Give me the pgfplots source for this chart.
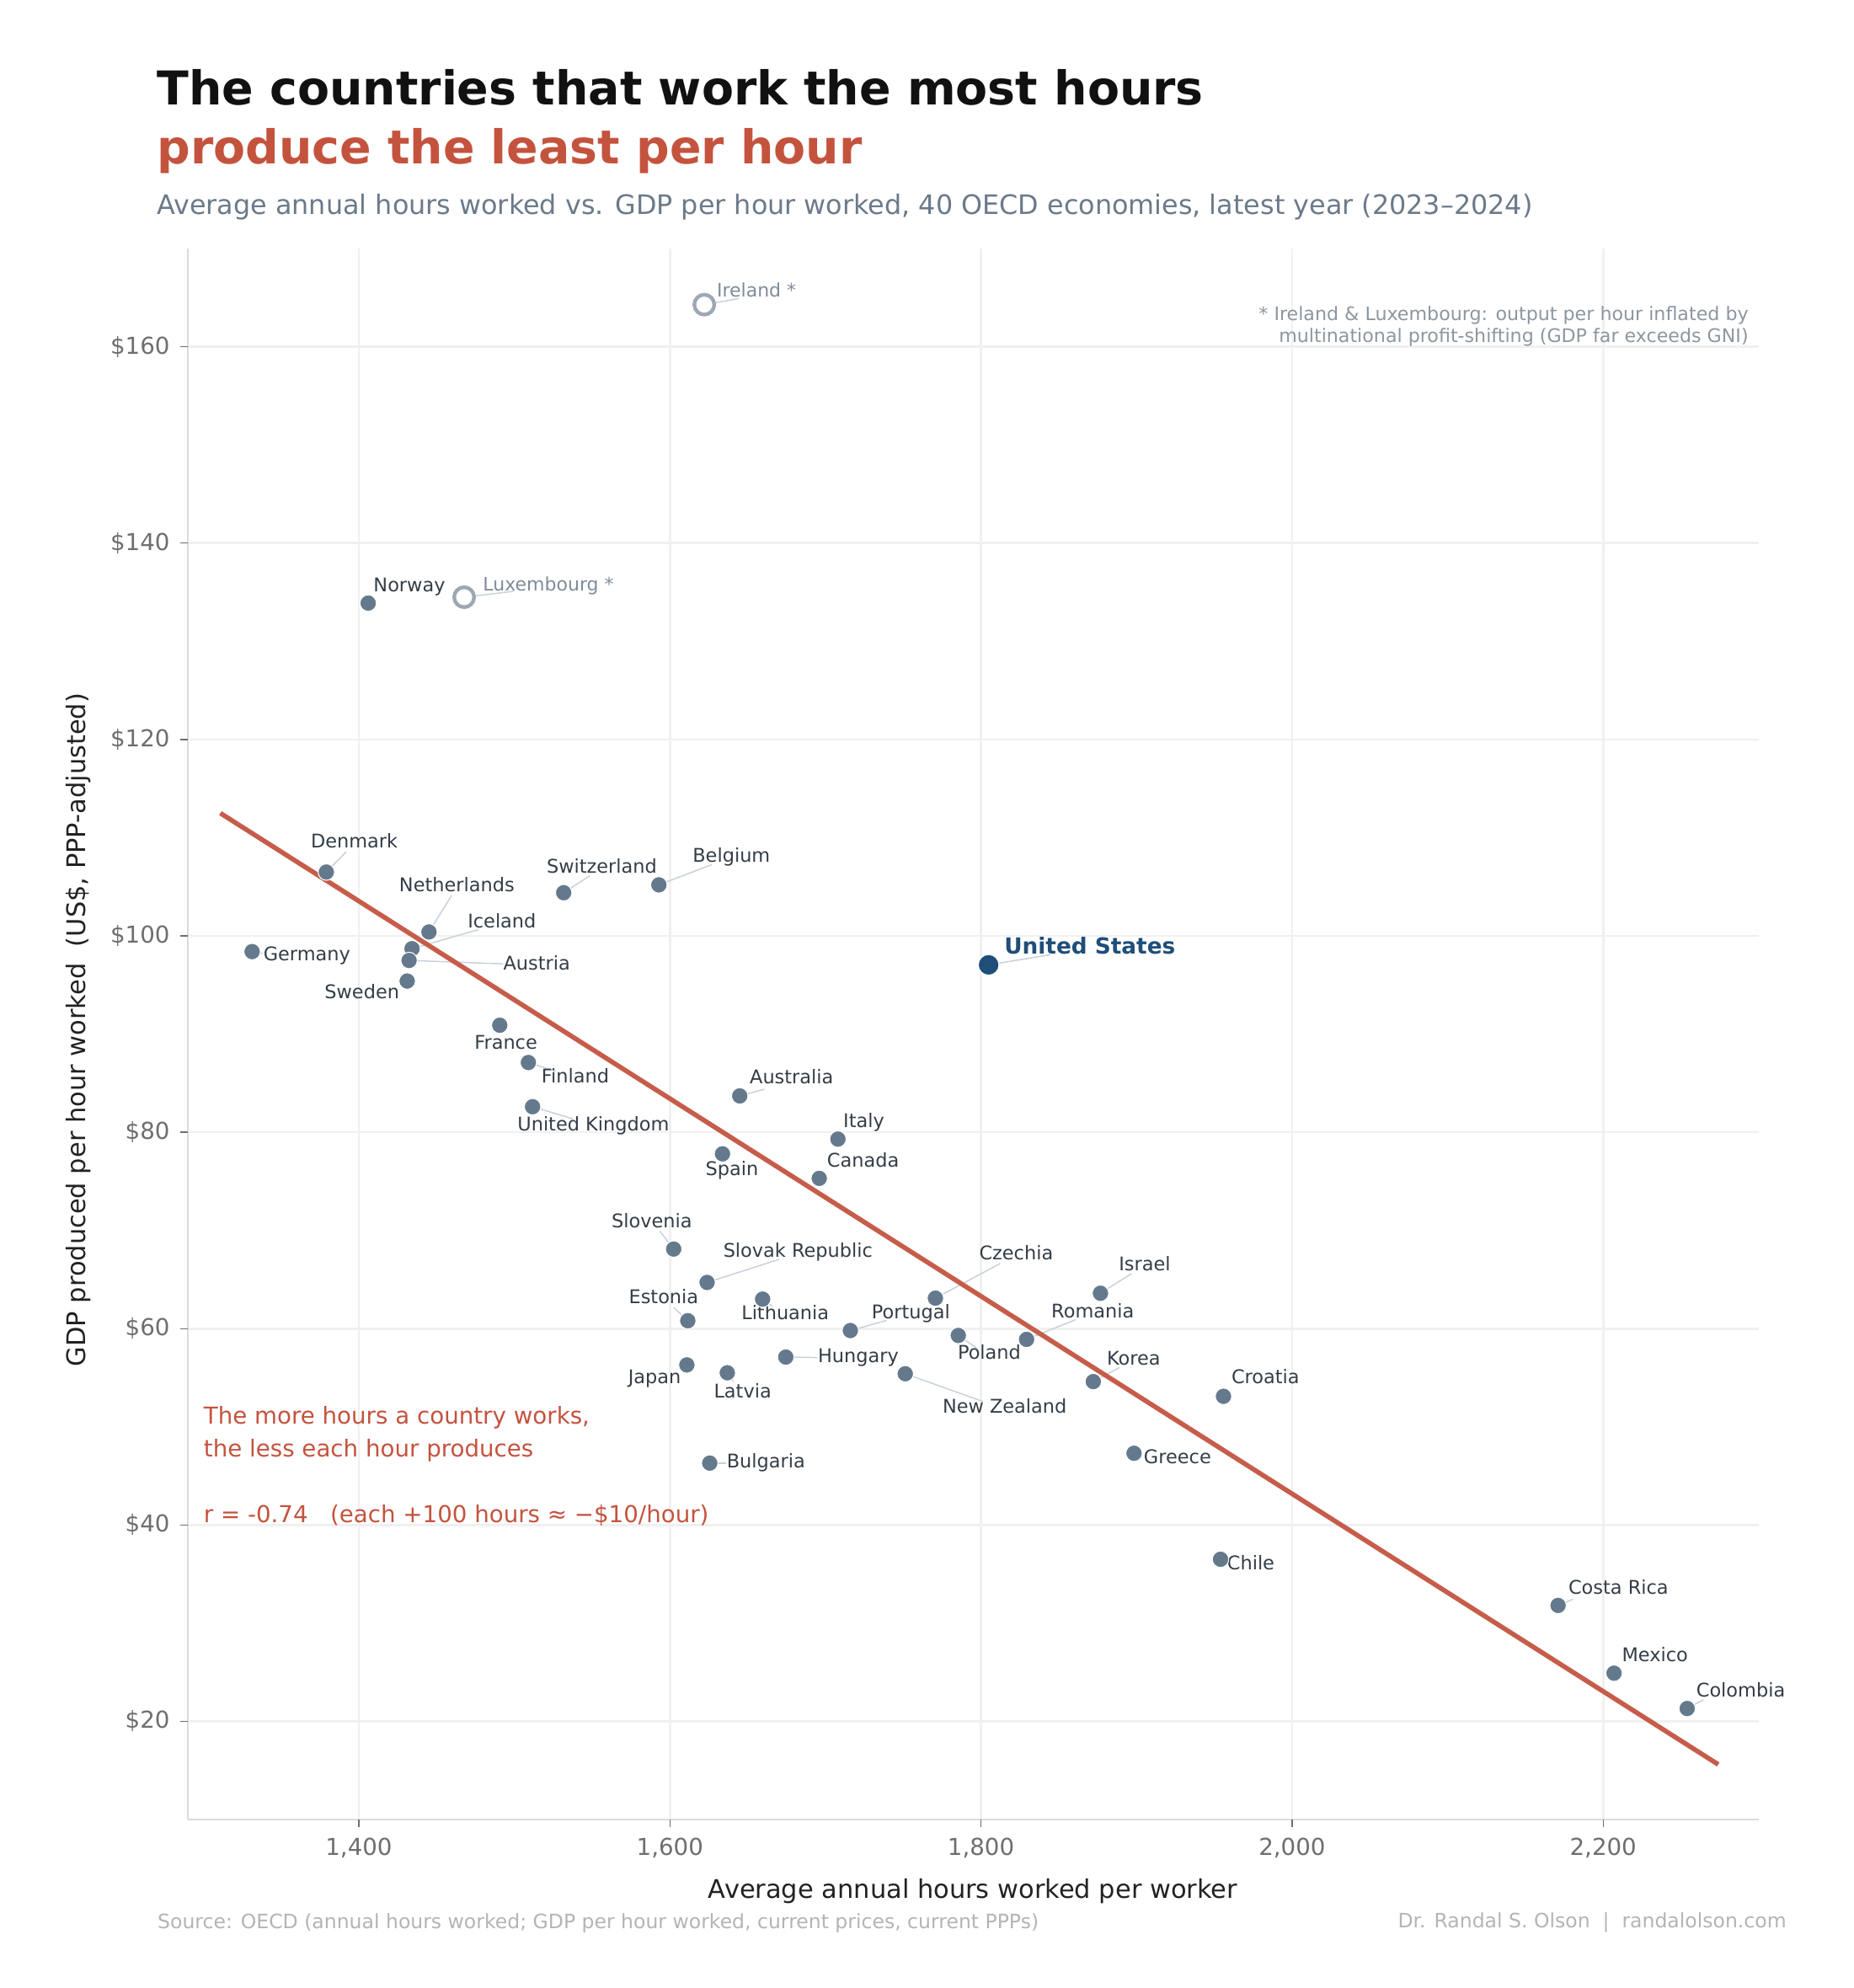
\documentclass[border=0pt]{standalone}
\usepackage{fontspec}
\setmainfont{DejaVu Sans}
\usepackage{pgfplots}
\pgfplotsset{compat=1.18}
\definecolor{ptcol}{RGB}{100,121,140}
\definecolor{uscol}{RGB}{31,78,121}
\definecolor{hollow}{RGB}{157,168,179}
\definecolor{starlab}{RGB}{127,140,153}
\definecolor{labcol}{RGB}{51,61,71}
\definecolor{leadcol}{RGB}{200,208,216}
\definecolor{redt}{RGB}{196,83,62}
\definecolor{fitcol}{RGB}{197,93,74}
\definecolor{subcol}{RGB}{107,122,138}
\definecolor{gridcol}{RGB}{240,240,240}
\definecolor{spinecol}{RGB}{220,220,220}
\definecolor{tickcol}{RGB}{110,110,110}
\definecolor{srccol}{RGB}{180,180,180}
\definecolor{notecol}{RGB}{140,150,160}
\newcommand\lfont{\fontsize{10.8}{13}\selectfont}
\newcommand\ldr[4]{\draw[leadcol, line width=0.7pt] (axis cs:#1,#2) -- ++({#3*0.01in},{-(#4)*0.01in});}
\newcommand\lbl[7][]{\path (axis cs:#2,#3) ++({#4*0.01in},{-(#5)*0.01in}) node[anchor=#6, inner sep=0pt, font=\lfont, text=labcol, #1] {#7};}
\newcommand\xtk[1]{\draw[tickcol, line width=0.6pt] (axis cs:#1,10) -- ++(0pt,-4.2pt);}
\newcommand\ytk[1]{\draw[tickcol, line width=0.6pt] (axis cs:1290,#1) -- ++(-4.4pt,0pt);}

\pgfplotstableread{
x y
1406.0 133.9
1379.1 106.5
1331.4 98.4
1445.1 100.4
1434.2 98.7
1432.3 97.5
1431.1 95.4
1531.7 104.4
1592.9 105.2
1490.6 90.9
1509.0 87.1
1511.7 82.6
1644.9 83.7
1708.0 79.3
1633.8 77.8
1696.0 75.3
1602.4 68.1
1623.9 64.7
1659.6 63.0
1770.7 63.1
1876.8 63.6
1611.5 60.8
1716.0 59.8
1785.4 59.3
1829.3 58.9
1674.5 57.1
1610.9 56.3
1636.9 55.5
1751.3 55.4
1872.2 54.6
1955.9 53.1
1625.6 46.3
1898.4 47.3
1954.0 36.5
2171.0 31.8
2207.0 24.9
2254.0 21.3
}\others
\pgfplotstableread{
x y
1622.1 164.3
1467.7 134.5
}\starred
\pgfplotstableread{
x y
1804.9 97.05
}\usa
\pgfplotstableread{
x y
1311 112.5
2274 15.6
}\fit

\begin{document}
\begin{tikzpicture}
\begin{scope}[x=0.01in,y=-0.01in]
\useasboundingbox (0,0) rectangle (1466.67,1573.33);
\end{scope}
\begin{axis}[
  at={(1.485in,-14.391in)}, anchor=south west,
  scale only axis, width=12.426in, height=12.424in,
  xmin=1290, xmax=2300, ymin=10, ymax=170,
  axis x line*=bottom, axis y line*=left,
  axis line style={spinecol, line width=1pt, -},
  xtick={1400,1600,1800,2000,2200},
  xticklabels={{1,400},{1,600},{1,800},{2,000},{2,200}},
  ytick={20,40,60,80,100,120,140,160},
  yticklabels={\$20,\$40,\$60,\$80,\$100,\$120,\$140,\$160},
  grid=major, major grid style={gridcol, line width=1.3pt},
  major tick length=0pt,
  xticklabel style={font=\fontsize{13.33}{16}\selectfont, text=tickcol, anchor=north, inner sep=0pt, yshift=-10.6pt},
  yticklabel style={font=\fontsize{13.33}{16}\selectfont, text=tickcol, anchor=east, inner sep=0pt, xshift=-10.1pt},
  clip=false,
]
\xtk{1400}\xtk{1600}\xtk{1800}\xtk{2000}\xtk{2200}
\ytk{20}\ytk{40}\ytk{60}\ytk{80}\ytk{100}\ytk{120}\ytk{140}\ytk{160}
% leader lines
\ldr{1379.1}{106.5}{15.7}{-16}
\ldr{1531.7}{104.4}{20.5}{-13.3}
\ldr{1592.9}{105.2}{41.9}{-16}
\ldr{1445.1}{100.4}{17.9}{-28.9}
\ldr{1434.2}{98.7}{52.7}{-15.1}
\ldr{1432.3}{97.5}{74.4}{2.7}
\ldr{1331.4}{98.4}{8.7}{1.5}
\ldr{1509.0}{87.1}{21.7}{6.9}
\ldr{1511.7}{82.6}{31.8}{9.6}
\ldr{1644.9}{83.7}{19.6}{-5.3}
\ldr{1602.4}{68.1}{-10.9}{-14.2}
\ldr{1623.9}{64.7}{56.8}{-18.2}
\ldr{1611.5}{60.8}{-11.2}{-10.5}
\ldr{1659.6}{63.0}{7.8}{5.7}
\ldr{1716.0}{59.8}{28.6}{-8}
\ldr{1770.7}{63.1}{51.4}{-27.5}
\ldr{1876.8}{63.6}{24.5}{-15.5}
\ldr{1829.3}{58.9}{38.8}{-15.6}
\ldr{1785.4}{59.3}{14.6}{10}
\ldr{1674.5}{57.1}{25.2}{0.4}
\ldr{1636.9}{55.5}{5.1}{7.1}
\ldr{1751.3}{55.4}{61.6}{22}
\ldr{1872.2}{54.6}{20.7}{-11.1}
\ldr{1625.6}{46.3}{13.2}{0}
\ldr{1804.9}{97.05}{48.9}{-8}
\ldr{1467.7}{134.5}{39.4}{-4.7}
\ldr{1622.1}{164.3}{27.4}{-4.8}
\ldr{2171.0}{31.8}{12}{-5}
\ldr{2254.0}{21.3}{13}{-7}
% fit line
\addplot[fitcol, line width=2.7pt] table {\fit};
% points
\addplot[only marks, mark=*, mark size=4.7pt, mark options={fill=ptcol, draw=white, line width=0.5pt}] table {\others};
\addplot[only marks, mark=*, mark size=5.7pt, mark options={fill=white, draw=hollow, line width=2.1pt}] table {\starred};
\addplot[only marks, mark=*, mark size=5.9pt, mark options={fill=uscol, draw=white, line width=0.5pt}] table {\usa};
% labels
\lbl{1379.1}{106.5}{-12.5}{-19}{base west}{Denmark}
\lbl{1531.7}{104.4}{-13.7}{-15.5}{base west}{Switzerland}
\lbl{1592.9}{105.2}{26.5}{-18.2}{base west}{Belgium}
\lbl{1445.1}{100.4}{-23.8}{-32.2}{base west}{Netherlands}
\lbl{1434.2}{98.7}{43.8}{-16.7}{base west}{Iceland}
\lbl{1432.3}{97.5}{74.4}{7.8}{base west}{Austria}
\lbl{1331.4}{98.4}{8.7}{7.1}{base west}{Germany}
\lbl{1431.1}{95.4}{-6}{13.8}{base east}{Sweden}
\lbl{1490.6}{90.9}{-20.3}{19.1}{base west}{France}
\lbl{1509.0}{87.1}{10.1}{16.4}{base west}{Finland}
\lbl{1511.7}{82.6}{-12.2}{19.1}{base west}{United Kingdom}
\lbl{1644.9}{83.7}{7.7}{-9.5}{base west}{Australia}
\lbl{1633.8}{77.8}{-13.7}{17.4}{base west}{Spain}
\lbl{1602.4}{68.1}{-49.3}{-17.1}{base west}{Slovenia}
\lbl{1623.9}{64.7}{12.6}{-20}{base west}{Slovak Republic}
\lbl{1611.5}{60.8}{-46.9}{-13.3}{base west}{Estonia}
\lbl{1659.6}{63.0}{-17}{16.2}{base west}{Lithuania}
\lbl{1716.0}{59.8}{16.7}{-9.6}{base west}{Portugal}
\lbl{1770.7}{63.1}{34.4}{-30.4}{base west}{Czechia}
\lbl{1876.8}{63.6}{14.3}{-17.8}{base west}{Israel}
\lbl{1829.3}{58.9}{19.4}{-17.3}{base west}{Romania}
\lbl{1785.4}{59.3}{-0.7}{18.9}{base west}{Poland}
\lbl{1674.5}{57.1}{25.2}{4.6}{base west}{Hungary}
\lbl{1610.9}{56.3}{-4.4}{15.1}{base east}{Japan}
\lbl{1636.9}{55.5}{-10.9}{20}{base west}{Latvia}
\lbl{1751.3}{55.4}{29.3}{31.3}{base west}{New Zealand}
\lbl{1872.2}{54.6}{10.5}{-13.4}{base west}{Korea}
\lbl{1955.9}{53.1}{6.1}{-10}{base west}{Croatia}
\lbl{1625.6}{46.3}{13.2}{3.8}{base west}{Bulgaria}
\lbl{1898.4}{47.3}{7.5}{8.2}{base west}{Greece}
\lbl{1406.0}{133.9}{4}{-9}{base west}{Norway}
\lbl{1708.0}{79.3}{4}{-9}{base west}{Italy}
\lbl{1696.0}{75.3}{6}{-9}{base west}{Canada}
\lbl{1954.0}{36.5}{5}{8}{base west}{Chile}
\lbl{2171.0}{31.8}{8}{-9}{base west}{Costa Rica}
\lbl{2207.0}{24.9}{6}{-9}{base west}{Mexico}
\lbl{2254.0}{21.3}{7}{-9}{base west}{Colombia}
\lbl[text=uscol, font=\fontsize{12.67}{15}\selectfont\bfseries]{1804.9}{97.05}{12.2}{-8.7}{base west}{United States}
\lbl[text=starlab, font=\fontsize{10.6}{13}\selectfont]{1467.7}{134.5}{14.7}{-4.7}{base west}{Luxembourg *}
\lbl[text=starlab, font=\fontsize{10.6}{13}\selectfont]{1622.1}{164.3}{9.7}{-5.9}{base west}{Ireland *}
\end{axis}
\begin{scope}[x=0.01in,y=-0.01in]
\node[anchor=base west, inner sep=0pt, font=\fontsize{26.67}{32}\selectfont\bfseries, text={rgb,255:red,17;green,17;blue,17}] at (124,83.3) {The countries that work the most hours};
\node[anchor=base west, inner sep=0pt, font=\fontsize{26.67}{32}\selectfont\bfseries, text=redt] at (124,130) {produce the least per hour};
\node[anchor=base west, inner sep=0pt, font=\fontsize{15.33}{18}\selectfont, text=subcol] at (124,169.5) {Average annual hours worked vs. GDP per hour worked, 40 OECD economies, latest year (2023–2024)};
\node[anchor=base east, inner sep=0pt, font=\fontsize{10.67}{13}\selectfont, text=notecol] at (1384,253.8) {* Ireland \& Luxembourg: output per hour inflated by};
\node[anchor=base east, inner sep=0pt, font=\fontsize{10.67}{13}\selectfont, text=notecol] at (1384,271.1) {multinational profit-shifting (GDP far exceeds GNI)};
\node[anchor=base west, inner sep=0pt, font=\fontsize{13.33}{16}\selectfont, text=redt] at (161,1127.1) {The more hours a country works,};
\node[anchor=base west, inner sep=0pt, font=\fontsize{13.33}{16}\selectfont, text=redt] at (161,1153.3) {the less each hour produces};
\node[anchor=base west, inner sep=0pt, font=\fontsize{13.33}{16}\selectfont, text=redt] at (161,1204.9) {r = -0.74\ \ \ (each +100 hours ≈ −\$10/hour)};
\node[anchor=center, inner sep=0pt, font=\fontsize{14.67}{17}\selectfont, text={rgb,255:red,34;green,34;blue,34}] at (770,1496.7) {Average annual hours worked per worker};
\node[anchor=center, inner sep=0pt, rotate=90, font=\fontsize{14.67}{17}\selectfont, text={rgb,255:red,34;green,34;blue,34}] at (62,815) {GDP produced per hour worked\ \ (US\$, PPP-adjusted)};
\node[anchor=west, inner sep=0pt, font=\fontsize{11.33}{14}\selectfont, text=srccol] at (124.5,1521.8) {Source: OECD (annual hours worked; GDP per hour worked, current prices, current PPPs)};
\node[anchor=east, inner sep=0pt, font=\fontsize{11.33}{14}\selectfont, text=srccol] at (1414,1521.8) {Dr. Randal S. Olson\ \ |\ \ randalolson.com};
\end{scope}
\end{tikzpicture}
\end{document}
